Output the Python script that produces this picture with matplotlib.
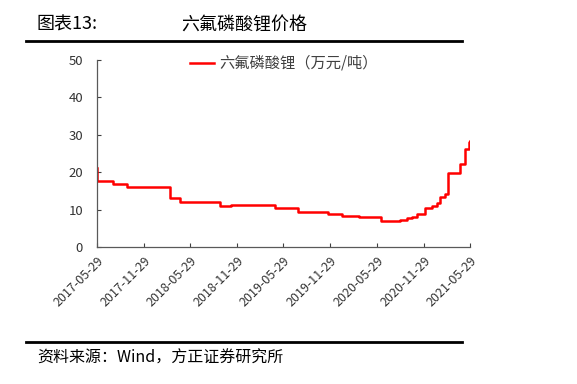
import pandas as pd
import matplotlib
matplotlib.use('Agg')
import matplotlib.pyplot as plt
import matplotlib.dates as mdates

plt.rcParams['font.family'] = ['Noto Sans CJK SC', 'DejaVu Sans']

# step change points (万元/吨)
dates = ['2017-05-29', '2017-05-31', '2017-07-29', '2017-09-22', '2018-03-11',
         '2018-04-19', '2018-09-23', '2018-11-05', '2019-04-26', '2019-07-25',
         '2019-11-20', '2020-01-12', '2020-03-20', '2020-06-12', '2020-08-28',
         '2020-09-23', '2020-10-13', '2020-11-01', '2020-12-04', '2020-12-30',
         '2021-01-19', '2021-02-01', '2021-02-20', '2021-03-04', '2021-04-20',
         '2021-05-09', '2021-05-26', '2021-05-29']
prices = [21.0, 17.6, 16.9, 16.1, 13.1,
          12.0, 11.0, 11.2, 10.5, 9.3,
          8.8, 8.3, 8.1, 6.8, 7.1,
          7.6, 8.1, 8.8, 10.5, 10.9,
          11.8, 13.3, 14.2, 19.7, 22.2,
          26.1, 28.1, 28.4]
tick_labels = ['2017-05-29', '2017-11-29', '2018-05-29', '2018-11-29', '2019-05-29',
               '2019-11-29', '2020-05-29', '2020-11-29', '2021-05-29']
series_name = '六氟磷酸锂（万元/吨）'

x = pd.to_datetime(dates)
ticks = pd.to_datetime(tick_labels)

fig = plt.figure(figsize=(5.77, 3.84), dpi=100)
ax = fig.add_axes([0.168, 0.357, 0.647, 0.487])

ax.plot(x, prices, color='#ff0000', lw=1.8, drawstyle='steps-post', label=series_name)

ax.set_xlim(ticks[0], ticks[-1])
ax.set_ylim(0, 50)
ax.set_yticks(range(0, 51, 10))
ax.set_xticks(ticks)
ax.set_xticklabels(tick_labels, rotation=45, ha='right', va='top', rotation_mode='anchor')
ax.tick_params(axis='both', direction='in', length=3, colors='#404040',
               labelcolor='#333333')
ax.tick_params(axis='x', labelsize=9, pad=5)
ax.tick_params(axis='y', labelsize=9.5, pad=10)
for s in ['top', 'right']:
    ax.spines[s].set_visible(False)
for s in ['left', 'bottom']:
    ax.spines[s].set_color('#595959')
    ax.spines[s].set_linewidth(0.9)

ax.legend(loc='upper center', bbox_to_anchor=(0.5, 1.1), frameon=False, fontsize=11,
          handlelength=1.6, handletextpad=0.3, labelcolor='#404040')

# header and footer
fig.add_artist(plt.Line2D([26 / 577, 462 / 577], [1 - 41 / 384] * 2, color='black', lw=2))
fig.text(37 / 577, 1 - 25 / 384, '图表13:', fontsize=13, va='center', color='black')
fig.text(181 / 577, 1 - 25 / 384, '六氟磷酸锂价格', fontsize=13, va='center', color='black')
fig.add_artist(plt.Line2D([26 / 577, 462 / 577], [1 - 342 / 384] * 2, color='black', lw=2))
fig.text(37 / 577, 1 - 358 / 384, '资料来源：Wind，方正证券研究所', fontsize=11.5, va='center',
         color='black', style='italic')

fig.savefig('out.png', dpi=100)
